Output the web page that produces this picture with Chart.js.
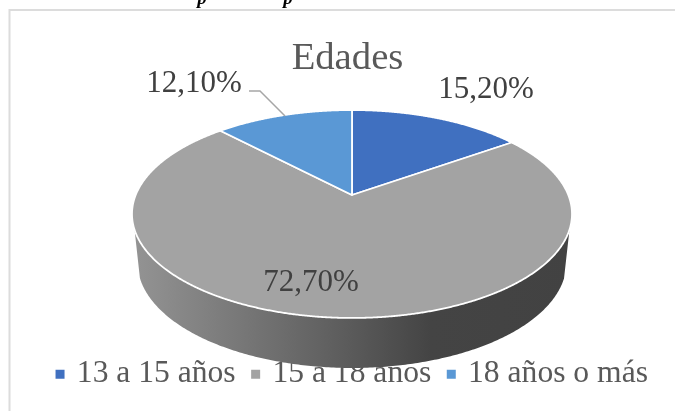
<!DOCTYPE html>
<html>
<head>
<meta charset="utf-8">
<style>
  html, body { margin: 0; padding: 0; background: #fff; }
  canvas { display: block; }
</style>
<script src="https://cdn.jsdelivr.net/npm/chart.js@4"></script>
</head>
<body>
<canvas id="edades" width="675" height="411"></canvas>
<script>
const categories = ['13 a 15 años', '15 a 18 años', '18 años o más'];
const percentages = [15.2, 72.7, 12.1];
const sliceColors = ['#4070c0', '#a3a3a3', '#5a98d5'];
const chartTitle = 'Edades';

// pie is tilted: unit circle -> screen through a simple projection
const centerX = 352, centerY = 195, radiusX = 216.3, tiltA = 100.5, tiltC = 0.1827;

function project(angle) {
    const u = Math.cos(angle), v = -Math.sin(angle);
    const d = 1 + tiltC * v;
    return { x: centerX + radiusX * u / d, y: centerY - tiltA * v / d };
}

// lower rim of the pie, a bit narrower because of the perspective
function projectBottom(angle) {
    const p = project(angle);
    return { x: centerX + (p.x - centerX) * 0.975, y: p.y + 48 + 2 * Math.sin(angle) };
}

function percentText(v) {
    return v.toFixed(2).replace('.', ',') + '%';
}

// part of the rim that has a visible side wall (canvas radians)
const wallFrom = 0.33, wallTo = Math.PI - 0.33;

const tiltedPie = {
    id: 'tiltedPie',
    beforeDraw(chart) {
        const ctx = chart.ctx;
        ctx.save();
        ctx.strokeStyle = '#dcdcdc';
        ctx.lineWidth = 2;
        ctx.beginPath();
        ctx.moveTo(9.5, 411);
        ctx.lineTo(9.5, 10);
        ctx.lineTo(675, 10);
        ctx.stroke();
        // what is left of the caption above the chart
        ctx.fillStyle = '#000000';
        ctx.font = 'italic bold 19px "Liberation Serif"';
        ctx.textAlign = 'center';
        ctx.fillText('p', 202, -1);
        ctx.fillText('p', 288, -1);
        ctx.restore();
    },
    beforeDatasetDraw(chart, args) {
        const ctx = chart.ctx;
        const arcs = args.meta.data;
        ctx.save();

        // side wall first
        arcs.forEach((arc) => {
            const from = Math.max(arc.startAngle, wallFrom);
            const to = Math.min(arc.endAngle, wallTo);
            if (to <= from) return;
            const grad = ctx.createLinearGradient(132, 0, 572, 0);
            grad.addColorStop(0, '#949494');
            grad.addColorStop(0.45, '#606060');
            grad.addColorStop(0.68, '#444444');
            grad.addColorStop(1, '#424242');
            ctx.fillStyle = grad;
            ctx.beginPath();
            for (let a = from; a <= to; a += 0.01) {
                const p = project(a);
                ctx.lineTo(p.x, p.y);
            }
            for (let a = to; a >= from; a -= 0.01) {
                const p = projectBottom(a);
                ctx.lineTo(p.x, p.y);
            }
            ctx.closePath();
            ctx.fill();
        });

        // top of the slices
        arcs.forEach((arc, i) => {
            ctx.fillStyle = sliceColors[i];
            ctx.strokeStyle = '#ffffff';
            ctx.lineWidth = 1.8;
            ctx.lineJoin = 'round';
            ctx.beginPath();
            ctx.moveTo(centerX, centerY);
            for (let a = arc.startAngle; a < arc.endAngle; a += 0.005) {
                const p = project(a);
                ctx.lineTo(p.x, p.y);
            }
            const e = project(arc.endAngle);
            ctx.lineTo(e.x, e.y);
            ctx.closePath();
            ctx.fill();
            ctx.stroke();
        });
        ctx.restore();
        return false;
    },
    afterDatasetsDraw(chart) {
        const ctx = chart.ctx;
        ctx.save();

        // leader line of the last slice
        ctx.strokeStyle = '#a6a6a6';
        ctx.lineWidth = 1.5;
        ctx.beginPath();
        ctx.moveTo(249, 91);
        ctx.lineTo(260, 91);
        ctx.lineTo(285, 116);
        ctx.stroke();

        ctx.font = '31px "Liberation Serif"';
        ctx.fillStyle = '#404040';
        ctx.textAlign = 'center';
        ctx.textBaseline = 'alphabetic';
        const spots = [[486, 98], [311, 291], [194, 92]];
        percentages.forEach((v, i) => {
            ctx.fillText(percentText(v), spots[i][0], spots[i][1]);
        });
        ctx.restore();
    },
    afterLayout(chart) {
        // legend sits a little right of the title
        chart.legend.left += 6;
        chart.legend.right += 6;
    }
};

new Chart(document.getElementById('edades'), {
    type: 'pie',
    data: {
        labels: categories,
        datasets: [{
            data: percentages,
            backgroundColor: sliceColors,
            borderColor: '#ffffff'
        }]
    },
    options: {
        responsive: false,
        animation: false,
        layout: { padding: { left: 20, top: 36, bottom: 11 } },
        plugins: {
            tooltip: { enabled: false },
            title: {
                display: true,
                text: chartTitle,
                color: '#595959',
                font: { family: 'Liberation Serif', size: 38.7, weight: 'normal' },
                padding: { top: 0, bottom: 0 }
            },
            legend: {
                position: 'bottom',
                labels: {
                    color: '#595959',
                    font: { family: 'Liberation Serif', size: 31.6 },
                    usePointStyle: true,
                    pointStyle: 'rect',
                    boxWidth: 2,
                    boxHeight: 11,
                    padding: 19
                }
            }
        }
    },
    plugins: [tiltedPie]
});
</script>
</body>
</html>
